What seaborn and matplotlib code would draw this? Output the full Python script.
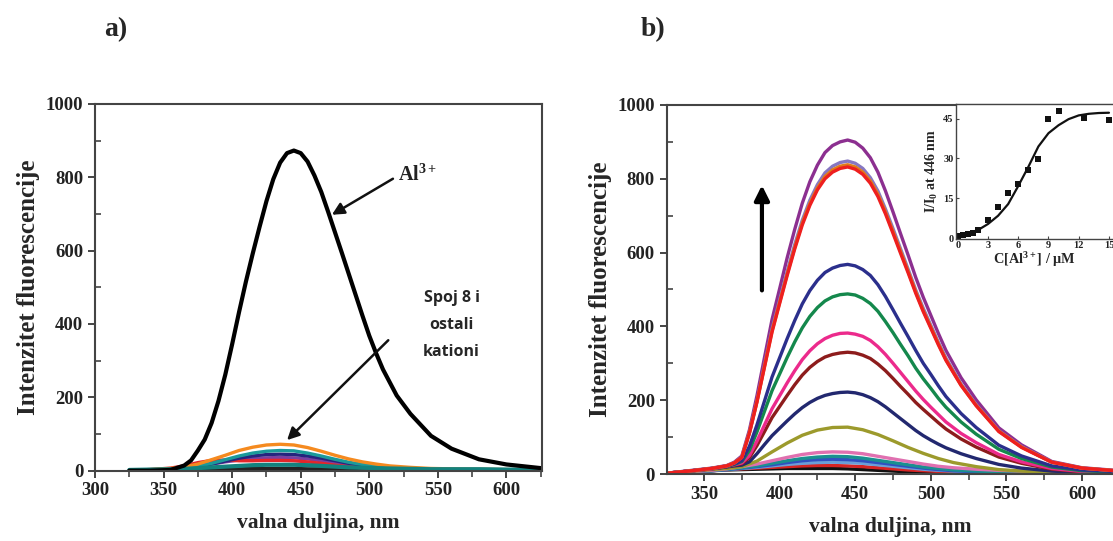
import numpy as np
import pandas as pd
import matplotlib.pyplot as plt
import seaborn as sns
from matplotlib.ticker import MultipleLocator

wl = [325, 340, 355, 365, 375, 385, 395, 405, 415, 425, 435, 445, 455,
      465, 475, 485, 495, 505, 515, 530, 545, 560, 580, 600, 625]
# finer reading for the tall curves
wl_d = [325, 340, 355, 365, 370, 375, 380, 385, 390, 395, 400, 405, 410, 415,
        420, 425, 430, 435, 440, 445, 450, 455, 460, 465, 470, 475, 480, 485,
        490, 495, 500, 505, 510, 520, 530, 545, 560, 580, 600, 625]

# panel a) : Al3+ and the other cations (coarse grid)
left_small = {
    'Mix black': ('#222222', [0, 1, 2, 3, 3, 4, 5, 5, 6, 6, 6, 6, 5, 5, 4, 3, 3, 2, 2, 1, 1, 1, 1, 0, 0]),
    'Mix purple': ('#7b3fa0', [1, 2, 4, 7, 12, 18, 24, 29, 33, 35, 36, 35, 32, 27, 21, 16, 12, 9, 6, 4, 3, 2, 2, 1, 1]),
    'Mix red': ('#e3262a', [1, 3, 7, 13, 22, 28, 29, 27, 27, 28, 28, 27, 24, 20, 15, 11, 8, 6, 4, 3, 2, 2, 1, 1, 1]),
    'Mix navy': ('#25257e', [1, 2, 4, 7, 11, 18, 26, 34, 40, 44, 45, 44, 40, 34, 27, 20, 15, 11, 7, 5, 3, 2, 2, 1, 1]),
    'Mix teal': ('#1b9a9a', [1, 2, 4, 7, 12, 20, 30, 40, 48, 53, 55, 54, 48, 40, 31, 23, 17, 12, 8, 5, 4, 3, 2, 2, 1]),
    'Mix orange': ('#f58a1f', [1, 3, 6, 10, 18, 30, 42, 55, 64, 70, 72, 70, 63, 53, 42, 32, 24, 18, 13, 9, 6, 5, 4, 3, 2]),
    'Mix teal2': ('#12827e', [2, 3, 4, 5, 7, 9, 11, 13, 15, 16, 16, 16, 15, 13, 11, 9, 8, 7, 6, 5, 4, 4, 4, 3, 3]),
}
al_color = '#000000'
al_vals = [0, 0, 2, 14, 28, 55, 85, 130, 190, 262, 345, 432, 515, 592, 665, 735, 795, 840,
           866, 873, 866, 843, 805, 760, 706, 650, 594, 537, 480, 423, 368, 320, 276, 205,
           155, 95, 60, 31, 17, 7]

# panel b) : titration with Al3+, low curves (coarse grid), drawn first
right_small = {
    'black': ('#111111', [1, 5, 9, 11, 12, 13, 14, 15, 15, 15, 15, 14, 12, 10, 8, 6, 5, 4, 3, 2, 2, 1, 1, 1, 1]),
    'red2': ('#d62424', [1, 5, 9, 12, 14, 16, 18, 20, 22, 23, 23, 22, 20, 17, 14, 11, 9, 7, 5, 4, 3, 2, 2, 1, 1]),
    'lightblue': ('#6a9fd8', [1, 5, 9, 12, 15, 18, 22, 26, 29, 31, 32, 31, 29, 25, 21, 17, 13, 10, 8, 6, 4, 3, 2, 2, 1]),
    'blue': ('#3050c0', [1, 5, 9, 12, 16, 20, 25, 31, 36, 39, 40, 39, 36, 31, 26, 21, 16, 12, 9, 6, 5, 4, 3, 2, 1]),
    'teal': ('#1a9090', [1, 5, 9, 13, 17, 22, 29, 36, 42, 46, 48, 47, 43, 37, 31, 25, 19, 15, 11, 8, 6, 4, 3, 2, 1]),
    'pink2': ('#e070b0', [2, 6, 10, 14, 20, 27, 36, 45, 53, 58, 60, 59, 55, 48, 41, 34, 27, 21, 17, 13, 10, 8, 6, 4, 3]),
    'olive': ('#9c9a2c', [2, 7, 12, 15, 20, 35, 60, 84, 105, 119, 126, 127, 120, 107, 90, 72, 56, 42, 31, 20, 12, 8, 4, 2, 1]),
}
# tall curves (fine grid), drawn in this order
right_big = {
    'navy2': ('#22286f', [2, 8, 14, 19, 22, 24, 33, 55, 80, 104, 124, 144, 163, 180, 194, 205, 213, 218, 221, 222,
                          220, 215, 207, 196, 182, 166, 150, 134, 118, 104, 92, 81, 71, 55, 42, 26, 16, 8, 4, 2]),
    'darkred': ('#8d1c1c', [2, 8, 14, 20, 24, 28, 44, 77, 115, 153, 183, 213, 242, 268, 289, 305, 317, 324, 328, 330,
                            328, 322, 313, 298, 280, 259, 237, 216, 194, 175, 157, 139, 122, 95, 73, 46, 29, 13, 6, 3]),
    'pink': ('#ec2a8c', [2, 8, 14, 21, 25, 30, 50, 89, 133, 177, 212, 247, 280, 310, 334, 353, 367, 376, 381, 382,
                         379, 373, 362, 345, 324, 300, 275, 250, 225, 202, 181, 161, 141, 110, 85, 53, 33, 15, 7, 4]),
    'green': ('#14884c', [2, 8, 15, 21, 26, 34, 64, 114, 170, 226, 271, 316, 358, 396, 427, 451, 469, 480, 486, 488,
                          485, 476, 462, 441, 413, 383, 351, 320, 287, 258, 232, 205, 181, 141, 108, 67, 42, 19, 9, 5]),
    'navy': ('#2b2f8c', [2, 8, 15, 22, 27, 36, 75, 133, 198, 263, 315, 367, 416, 461, 497, 525, 546, 558, 565, 568,
                         564, 554, 538, 513, 481, 445, 408, 372, 335, 300, 270, 239, 210, 164, 126, 78, 49, 22, 11, 6]),
    'purple': ('#8c2f90', [2, 9, 16, 23, 32, 49, 119, 212, 316, 419, 502, 586, 663, 734, 792, 837, 871, 890, 900, 905,
                           899, 883, 857, 818, 767, 710, 651, 593, 533, 479, 430, 381, 335, 261, 201, 125, 79, 34, 17, 9]),
    'lavender': ('#8777c2', [2, 8, 15, 22, 30, 46, 112, 198, 296, 393, 471, 549, 622, 688, 742, 784, 816, 834, 844, 848,
                             842, 828, 803, 767, 718, 665, 610, 555, 499, 449, 403, 357, 314, 244, 188, 117, 74, 32, 16, 8]),
    'orange': ('#e07b1a', [2, 8, 15, 22, 30, 45, 111, 196, 292, 388, 465, 542, 614, 680, 733, 775, 806, 824, 834, 838,
                           832, 818, 794, 758, 710, 657, 603, 549, 494, 443, 398, 353, 310, 241, 186, 116, 73, 32, 16, 8]),
    'red': ('#ee1f1f', [2, 8, 15, 22, 30, 45, 110, 195, 290, 385, 462, 538, 610, 675, 728, 770, 800, 818, 828, 832,
                        826, 812, 788, 752, 705, 652, 598, 545, 490, 440, 395, 350, 308, 240, 185, 115, 72, 32, 16, 8]),
}

# inset: I/I0 at 446 nm vs C[Al3+]
conc = [0, 0.5, 1, 1.5, 2, 3, 4, 5, 6, 7, 8, 9, 10, 12.5, 15]
ratio = [0.9, 1.2, 1.5, 2.0, 3.0, 6.8, 11.8, 17.0, 20.3, 25.6, 29.8, 44.9, 48.0, 45.3, 44.3]
fit_c = [0, 1, 2, 3, 4, 5, 6, 7, 8, 9, 10, 11, 12, 13, 14, 15]
fit_r = [1.2, 1.8, 3.0, 5.3, 8.4, 12.8, 19.6, 26.8, 34.5, 39.5, 42.5, 44.8, 46.2, 46.8, 47.1, 47.2]

sns.set_style('ticks')
plt.rcParams['font.family'] = ['Liberation Serif', 'DejaVu Serif']
plt.rcParams['font.weight'] = 'bold'
plt.rcParams['axes.labelweight'] = 'bold'
plt.rcParams['mathtext.fontset'] = 'custom'
plt.rcParams['mathtext.rm'] = 'Liberation Serif:bold'
plt.rcParams['mathtext.it'] = 'Liberation Serif:bold'
plt.rcParams['mathtext.bf'] = 'Liberation Serif:bold'
plt.rcParams['axes.edgecolor'] = '#444444'
plt.rcParams['xtick.color'] = '#444444'
plt.rcParams['ytick.color'] = '#444444'
plt.rcParams['xtick.labelcolor'] = '#222222'
plt.rcParams['ytick.labelcolor'] = '#222222'

fig = plt.figure(figsize=(11.13, 5.41), dpi=100)
ax1 = fig.add_axes([0.0854, 0.130, 0.4016, 0.6778])
ax2 = fig.add_axes([0.599, 0.1238, 0.401, 0.6822])


def style_axes(ax):
    for s in ax.spines.values():
        s.set_linewidth(1.5)
    ax.xaxis.set_major_locator(MultipleLocator(50))
    ax.xaxis.set_minor_locator(MultipleLocator(25))
    ax.yaxis.set_major_locator(MultipleLocator(200))
    ax.yaxis.set_minor_locator(MultipleLocator(100))
    ax.tick_params(axis='both', which='major', labelsize=13.5, length=5, width=1.4, direction='out')
    ax.tick_params(axis='x', which='minor', length=4, width=1.2, direction='out')
    ax.tick_params(axis='y', which='minor', length=4, width=1.2, direction='in')
    ax.set_ylim(0, 1000)
    ax.set_xlabel('valna duljina, nm', fontsize=15.5, labelpad=10)
    ax.set_ylabel('Intenzitet fluorescencije', fontsize=18, labelpad=4)


# ---- panel a)
for name, (col, vals) in left_small.items():
    lw = 3.0 if name == 'Mix teal2' else 2.4
    sns.lineplot(x=wl, y=vals, ax=ax1, color=col, lw=lw, legend=False)
sns.lineplot(x=wl_d, y=al_vals, ax=ax1, color=al_color, lw=3.0, legend=False)
ax1.set_xlim(300, 626)
style_axes(ax1)

ax1.annotate('', xy=(471, 694), xytext=(519, 800),
             arrowprops=dict(arrowstyle='-|>', color='#111111', lw=1.8, mutation_scale=18))
ax1.text(521, 805, 'Al$^{3+}$', fontsize=14.5, ha='left', va='center', color='#222222')
ax1.annotate('', xy=(438.6, 78), xytext=(515.3, 361),
             arrowprops=dict(arrowstyle='-|>', color='#111111', lw=1.8, mutation_scale=18))
ax1.text(560, 397, 'Spoj 8 i\nostali\nkationi', fontsize=11.5, ha='center', va='center',
         family=['Open Sans', 'DejaVu Sans'], weight='bold', linespacing=1.9)

# ---- panel b)
for name, (col, vals) in right_small.items():
    sns.lineplot(x=wl, y=vals, ax=ax2, color=col, lw=2.4, legend=False)
for name, (col, vals) in right_big.items():
    sns.lineplot(x=wl_d, y=vals, ax=ax2, color=col, lw=2.4, legend=False)
ax2.set_xlim(325.3, 620.5)
style_axes(ax2)
ax2.spines['right'].set_visible(False)
ax2.annotate('', xy=(388.3, 790), xytext=(388.3, 490),
             arrowprops=dict(arrowstyle='-|>', color='#000000', lw=3, mutation_scale=22))

# inset
axi = fig.add_axes([0.8587, 0.558, 0.1413, 0.2498])
sns.lineplot(x=fit_c, y=fit_r, ax=axi, color='#111111', lw=1.6, legend=False)
sns.scatterplot(x=conc, y=ratio, ax=axi, color='#111111', marker='s', s=14, linewidth=0, legend=False)
axi.set_xlim(-0.2, 15.4)
axi.set_ylim(-0.4, 50.5)
axi.set_xticks([0, 3, 6, 9, 12, 15])
axi.set_yticks([0, 15, 30, 45])
axi.tick_params(axis='both', labelsize=7.5, length=2.5, width=0.8, direction='in', pad=1.5)
for s in axi.spines.values():
    s.set_linewidth(1.0)
axi.spines['right'].set_visible(False)
axi.set_xlabel('C[Al$^{3+}$] / \u03bcM', fontsize=10.3, labelpad=0)
axi.set_ylabel('I/I$_{0}$ at 446 nm', fontsize=10, labelpad=2)

fig.text(0.094, 0.945, 'a)', fontsize=20, weight='bold', ha='left', va='center')
fig.text(0.576, 0.945, 'b)', fontsize=20, weight='bold', ha='left', va='center')

fig.savefig('out.png', dpi=100)
